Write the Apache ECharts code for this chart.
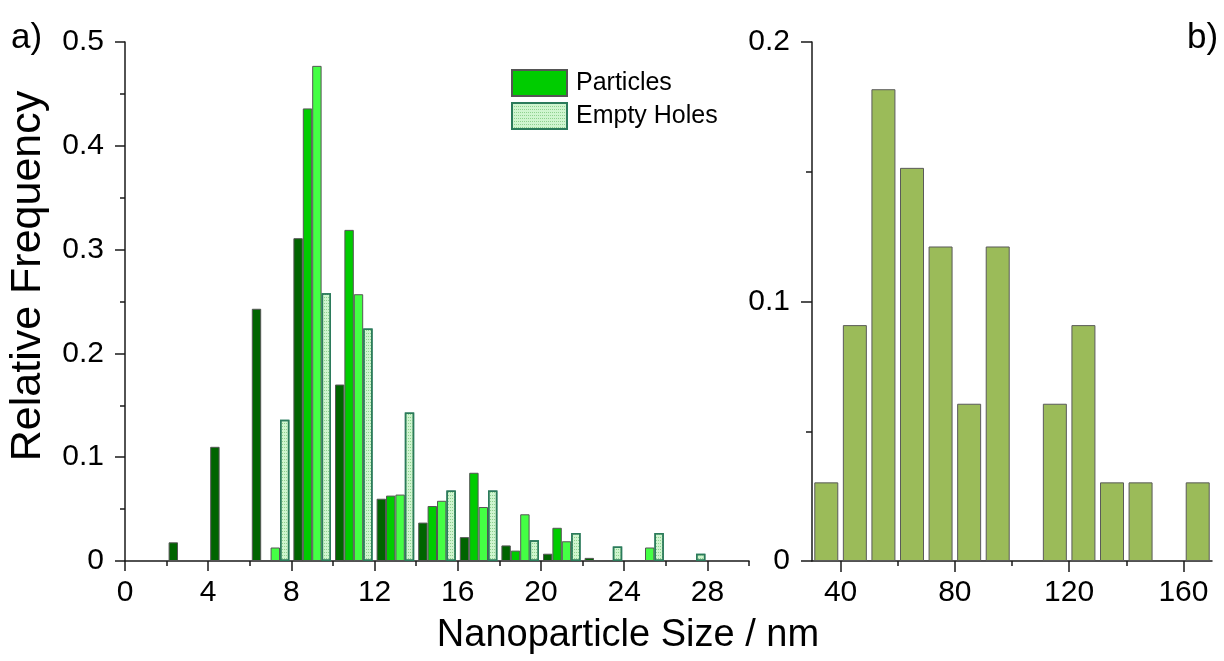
<!DOCTYPE html>
<html>
<head>
<meta charset="utf-8">
<script src="https://cdn.jsdelivr.net/npm/echarts@6/dist/echarts.min.js"></script>
<style>
  html, body { margin: 0; padding: 0; background: #fff; }
  #main { width: 1224px; height: 661px; }
</style>
</head>
<body>
<div id="main"></div>
<script>
// a) 2 nm bins, 0 - 30 nm
var binsA = ['0-2', '2-4', '4-6', '6-8', '8-10', '10-12', '12-14', '14-16', '16-18', '18-20', '20-22', '22-24', '24-26', '26-28', '28-30'];
var particlesDark = [0, 0.018, 0.110, 0.243, 0.311, 0.170, 0.060, 0.037, 0.023, 0.015, 0.007, 0.003, 0, 0, 0];
var particlesMid = [0, 0, 0, 0, 0.436, 0.319, 0.063, 0.053, 0.085, 0.010, 0.032, 0, 0, 0, 0];
var particlesLight = [0, 0, 0, 0.013, 0.477, 0.257, 0.064, 0.058, 0.052, 0.045, 0.019, 0, 0.013, 0, 0];
var emptyHoles = [0, 0, 0, 0.136, 0.258, 0.224, 0.143, 0.068, 0.068, 0.020, 0.027, 0.014, 0.027, 0.007, 0];
var ticksA = [0, 4, 8, 12, 16, 20, 24, 28];
var minorTicksA = [2, 6, 10, 14, 18, 22, 26, 30];

// b) 10 nm bins, 30 - 170 nm
var binsB = ['30-40', '40-50', '50-60', '60-70', '70-80', '80-90', '90-100', '100-110', '110-120', '120-130', '130-140', '140-150', '150-160', '160-170'];
var freqB = [0.0303, 0.0909, 0.1818, 0.1515, 0.1212, 0.0606, 0.1212, 0, 0.0606, 0.0909, 0.0303, 0.0303, 0, 0.0303];
var ticksB = [40, 80, 120, 160];
var minorTicksB = [60, 100, 140];

var FONT = '"Liberation Sans", Arial, sans-serif';
var AX = '#1a1a1a';

var noZero = function (arr) { return arr.map(function (v) { return v === 0 ? null : v; }); };

var chart = echarts.init(document.getElementById('main'), null, { renderer: 'canvas' });

var lineStyle = { color: AX, width: 1.5 };
var labelStyle = { color: '#000', fontSize: 30, fontFamily: FONT };

// value axis used only for ticks + labels
var tickAxis = function (grid, min, max, ticks, len, withLine, withLabels) {
    return {
        type: 'value', gridIndex: grid, min: min, max: max, position: 'bottom',
        axisLine: { show: withLine, onZero: false, lineStyle: lineStyle },
        axisTick: { show: true, length: len, customValues: ticks, lineStyle: lineStyle },
        axisLabel: withLabels ? Object.assign({ show: true, margin: 17, customValues: ticks }, labelStyle) : { show: false },
        splitLine: { show: false }
    };
};

var barBase = function (name, data, color, width) {
    return {
        name: name, type: 'bar', xAxisIndex: 2, yAxisIndex: 0,
        barWidth: width, barGap: '0%',
        itemStyle: { color: color, borderColor: '#555', borderWidth: 1 },
        data: noZero(data)
    };
};

var holes = barBase('Empty Holes', emptyHoles, '#cff5cf', 9.4);
holes.itemStyle = {
    color: '#cff5cf', borderColor: '#2b7b5b', borderWidth: 1.5,
    decal: { symbol: 'rect', symbolSize: 1, color: '#8fd08f', dashArrayX: [1, 1], dashArrayY: [1, 2] }
};

var option = {
    animation: false,
    backgroundColor: '#fff',
    textStyle: { fontFamily: FONT },
    grid: [
        { left: 125, top: 42, width: 624, height: 519, outerBoundsMode: 'none' },
        { left: 812, top: 42, width: 400, height: 519, outerBoundsMode: 'none' }
    ],
    legend: {
        orient: 'vertical', left: 511, top: 69, padding: 0, itemWidth: 55, itemHeight: 26, itemGap: 5,
        icon: 'rect', data: ['Particles', 'Empty Holes'],
        textStyle: { color: '#000', fontSize: 25, fontFamily: FONT, padding: [0, 0, 0, 4] }
    },
    xAxis: [
        tickAxis(0, 0, 30, ticksA, 10, true, true),
        tickAxis(0, 0, 30, minorTicksA, 5, false, false),
        { type: 'category', gridIndex: 0, show: false, position: 'bottom', data: binsA, axisLine: { onZero: false } },
        tickAxis(1, 30, 170, ticksB, 11, true, true),
        tickAxis(1, 30, 170, minorTicksB, 5, false, false),
        { type: 'category', gridIndex: 1, show: false, position: 'bottom', data: binsB, axisLine: { onZero: false } }
    ],
    yAxis: [
        {
            type: 'value', gridIndex: 0, min: 0, max: 0.5, interval: 0.1,
            axisLine: { show: true, onZero: false, lineStyle: lineStyle },
            axisTick: { show: true, length: 10, lineStyle: lineStyle },
            minorTick: { show: true, splitNumber: 2, length: 5, lineStyle: lineStyle },
            axisLabel: Object.assign({ margin: 21 }, labelStyle),
            splitLine: { show: false }
        },
        {
            type: 'value', gridIndex: 1, min: 0, max: 0.2, interval: 0.1,
            axisLine: { show: true, onZero: false, lineStyle: lineStyle },
            axisTick: { show: true, length: 11, lineStyle: lineStyle },
            minorTick: { show: true, splitNumber: 2, length: 6, lineStyle: lineStyle },
            axisLabel: Object.assign({ margin: 22 }, labelStyle),
            splitLine: { show: false }
        }
    ],
    series: [
        barBase('Particles (dark)', particlesDark, '#006400', 9.4),
        barBase('Particles', particlesMid, '#00cc00', 9.4),
        barBase('Particles (light)', particlesLight, '#44ff44', 9.4),
        holes,
        {
            name: 'b', type: 'bar', xAxisIndex: 5, yAxisIndex: 1, barWidth: 24,
            itemStyle: { color: '#9bbb59', borderColor: '#5a5a5a', borderWidth: 1 },
            data: noZero(freqB)
        }
    ],
    graphic: [
        { type: 'text', left: 11, top: 21, style: { text: 'a)', font: '35px ' + FONT, fill: '#000' } },
        { type: 'text', left: 1187, top: 21, style: { text: 'b)', font: '35px ' + FONT, fill: '#000' } },
        {
            type: 'text', x: 628, y: 636,
            style: { text: 'Nanoparticle Size / nm', font: '38px ' + FONT, fill: '#000', textAlign: 'center', textVerticalAlign: 'middle' }
        },
        {
            type: 'text', x: 28, y: 276, rotation: Math.PI / 2,
            style: { text: 'Relative Frequency', font: '43px ' + FONT, fill: '#000', textAlign: 'center', textVerticalAlign: 'middle' }
        }
    ]
};

chart.setOption(option);
</script>
</body>
</html>
